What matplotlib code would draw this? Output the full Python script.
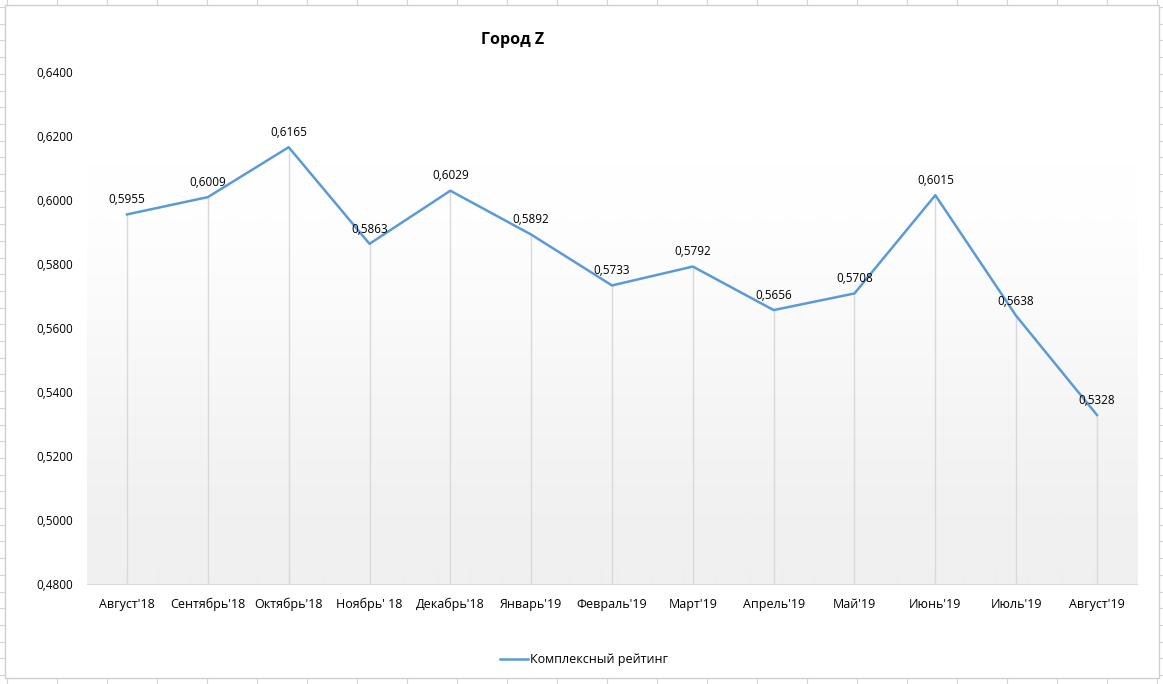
import numpy as np
import matplotlib.pyplot as plt
from matplotlib.patches import Rectangle
from matplotlib.lines import Line2D

plt.rcParams['font.family'] = ['Open Sans', 'DejaVu Sans']

months = ["Август'18", "Сентябрь'18", "Октябрь'18", "Ноябрь' 18", "Декабрь'18",
          "Январь'19", "Февраль'19", "Март'19", "Апрель'19", "Май'19",
          "Июнь'19", "Июль'19", "Август'19"]
rating = [0.5955, 0.6009, 0.6165, 0.5863, 0.6029, 0.5892, 0.5733,
          0.5792, 0.5656, 0.5708, 0.6015, 0.5638, 0.5328]
series_name = "Комплексный рейтинг"
title = "Город Z"

W, H = 1163, 684
fig = plt.figure(figsize=(W / 100, H / 100), dpi=100)
fig.patch.set_facecolor("white")

# spreadsheet cells behind the chart
grid_c = "#d4d4d4"
for x in np.arange(7, W, 50):
    fig.add_artist(Line2D([x / W, x / W], [0, 1], color=grid_c, lw=0.8, zorder=0))
for y in np.arange(7, H, 16.7):
    fig.add_artist(Line2D([0, 1], [1 - y / H, 1 - y / H], color=grid_c, lw=0.8, zorder=0))
fig.add_artist(Rectangle((5 / W, 1 - 678 / H), (1159 - 5) / W, (678 - 5) / H,
                         transform=fig.transFigure, facecolor="white",
                         edgecolor="#cfcfcf", lw=1, zorder=1))

ax = fig.add_axes([86.6 / W, (H - 584) / H, 1050.8 / W, 512 / H], zorder=2)
ax.set_facecolor("none")
x = np.arange(len(months))
ax.set_xlim(-0.5, len(months) - 0.5)
ax.set_ylim(0.48, 0.64)

# gradient background of plot area (white on top, light grey at the bottom)
t = np.linspace(0, 1, 512).reshape(-1, 1)
t = np.clip((t - 0.15) / 0.85, 0, 1)
t = t * t * (3 - 2 * t)
cmap = plt.matplotlib.colors.LinearSegmentedColormap.from_list("g", ["white", "#f0f0f0"])
ax.imshow(t[::-1], extent=[-0.5, len(months) - 0.5, 0.48, 0.64], aspect="auto",
          cmap=cmap, origin="lower", zorder=0, interpolation="bilinear")

ax.vlines(x, 0.48, rating, color="#d9d9d9", lw=1, zorder=1)
line, = ax.plot(x, rating, color="#5b9bd5", lw=1.8, zorder=3, label=series_name)

for xi, v in zip(x, rating):
    ax.annotate(f"{v:.4f}".replace(".", ","), (xi, v), xytext=(0, 6),
                textcoords="offset points", ha="center", va="bottom", fontsize=8.5,
                zorder=4)

ax.set_xticks(x)
ax.set_xticklabels(months, fontsize=9)
yt = np.arange(0.48, 0.6401, 0.02)
ax.set_yticks(yt)
ax.set_yticklabels([f"{v:.4f}".replace(".", ",") for v in yt], fontsize=8.5)
ax.tick_params(axis="both", length=0, pad=10)
for s in ["top", "right", "left"]:
    ax.spines[s].set_visible(False)
ax.spines["bottom"].set_color("#d9d9d9")
ax.spines["bottom"].set_zorder(5)

fig.text(513 / W, 1 - 40 / H, title, ha="center", va="center", fontsize=11.5,
         fontweight="bold", zorder=5)
fig.legend(handles=[line], loc="center", bbox_to_anchor=(584 / W, 1 - 660 / H),
           frameon=False, fontsize=9, handlelength=2.2, handletextpad=0.2)

fig.savefig("out.png", dpi=100)
